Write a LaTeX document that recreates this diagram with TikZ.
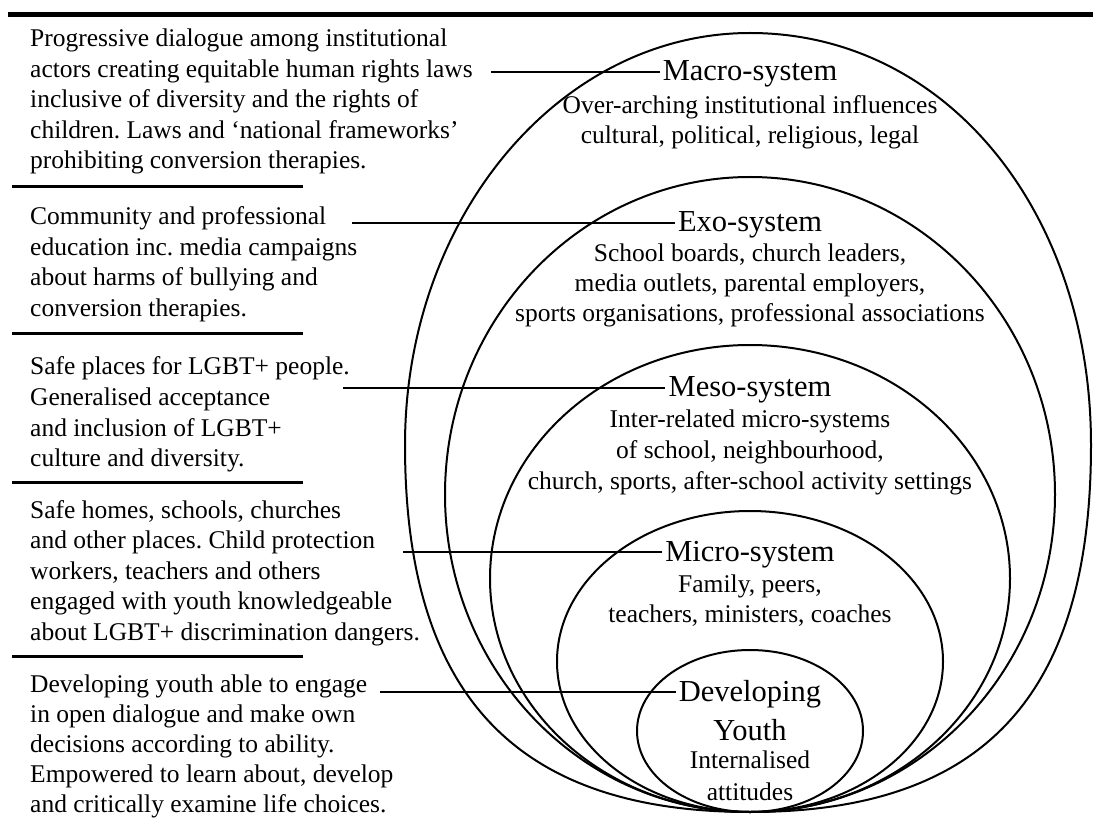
\documentclass[tikz,border=0pt]{standalone}
\usepackage{fontspec}
\setmainfont{Liberation Serif}
\frenchspacing
\begin{document}
\begin{tikzpicture}[x=1pt,y=-1pt,
  lefttext/.style={anchor=base west, inner sep=0pt, font=\fontsize{25.5}{30.5}\selectfont},
  sub/.style={anchor=base, inner sep=0pt, font=\fontsize{25.5}{30.5}\selectfont},
  ttl/.style={anchor=base, inner xsep=3pt, inner ysep=0pt, font=\fontsize{30.5}{36}\selectfont},
  conn/.style={line width=2.5pt},
  sepline/.style={line width=3pt},
  ring/.style={line width=2pt}]
\useasboundingbox (0,0) rectangle (1093,826);

% top bar
\draw[line width=5.5pt] (8,14.5) -- (1093,14.5);

% nested systems
% macro: egg-like, fuller towards the bottom
\draw[ring] (750,33)
  .. controls (559.5,33) and (405,217.5) .. (405,445)
  .. controls (405,694.6) and (515.4,812) .. (750,812)
  .. controls (984.6,812) and (1091,694.6) .. (1091,445)
  .. controls (1091,210) and (945,33) .. (750,33) -- cycle;
\draw[ring] (750,494.5) ellipse [x radius=305, y radius=317.5];
\draw[ring] (750,578.5) ellipse [x radius=260, y radius=233.5];
\draw[ring] (750,661.5) ellipse [x radius=193, y radius=150.5];
\draw[ring] (750,731)   ellipse [x radius=113, y radius=81];

% separators
\draw[sepline] (12,187) -- (303,187);
\draw[sepline] (12,334) -- (303,334);
\draw[sepline] (12,482) -- (303,482);
\draw[sepline] (12,656) -- (303,656);

% left text
\node[lefttext] (a1) at (30,47)    {Progressive dialogue among institutional};
\node[lefttext] (a2) at (30,77.5)  {actors creating equitable human rights laws};
\node[lefttext] (a3) at (30,108)   {inclusive of diversity and the rights of};
\node[lefttext] (a4) at (30,138.5) {children. Laws and ‘national frameworks’};
\node[lefttext] (a5) at (30,169)   {prohibiting conversion therapies.};

\node[lefttext] (b1) at (30,225)   {Community and professional};
\node[lefttext] (b2) at (30,255.5) {education inc. media campaigns};
\node[lefttext] (b3) at (30,286)   {about harms of bullying and};
\node[lefttext] (b4) at (30,316.5) {conversion therapies.};

\node[lefttext] (c1) at (30,375)   {Safe places for LGBT+ people.};
\node[lefttext] (c2) at (30,405.5) {Generalised acceptance};
\node[lefttext] (c3) at (30,436)   {and inclusion of LGBT+};
\node[lefttext] (c4) at (30,466.5) {culture and diversity.};

\node[lefttext] (d1) at (30,518)   {Safe homes, schools, churches};
\node[lefttext] (d2) at (30,548.5) {and other places. Child protection};
\node[lefttext] (d3) at (30,579)   {workers, teachers and others};
\node[lefttext] (d4) at (30,609.5) {engaged with youth knowledgeable};
\node[lefttext] (d5) at (30,640)   {about LGBT+ discrimination dangers.};

\node[lefttext] (e1) at (30,692)   {Developing youth able to engage};
\node[lefttext] (e2) at (30,722)   {in open dialogue and make own};
\node[lefttext] (e3) at (30,752)   {decisions according to ability.};
\node[lefttext] (e4) at (30,782)   {Empowered to learn about, develop};
\node[lefttext] (e5) at (30,812)   {and critically examine life choices.};

% system labels
\node[ttl] (macro) at (750,81) {Macro-system};
\node[sub] (macro1) at (750,114) {Over-arching institutional influences};
\node[sub] (macro2) at (750,144) {cultural, political, religious, legal};

\node[ttl] (exo) at (750,232) {Exo-system};
\node[sub] (exo1) at (750,262) {School boards, church leaders,};
\node[sub] (exo2) at (750,292) {media outlets, parental employers,};
\node[sub] (exo3) at (750,322) {sports organisations, professional associations};

\node[ttl] (meso) at (750,397) {Meso-system};
\node[sub] (meso1) at (750,428) {Inter-related micro-systems};
\node[sub] (meso2) at (750,458) {of school, neighbourhood,};
\node[sub] (meso3) at (750,489) {church, sports, after-school activity settings};

\node[ttl] (micro) at (750,561) {Micro-system};
\node[sub] (micro1) at (750,592) {Family, peers,};
\node[sub] (micro2) at (750,622) {teachers, ministers, coaches};

\node[ttl] (dev) at (750,701) {Developing};
\node[ttl] (youth) at (750,740) {Youth};
\node[sub] (dev1) at (750,768) {Internalised};
\node[sub] (dev2) at (750,800) {attitudes};

% connectors
\coordinate (pA) at (491,72);
\coordinate (pB) at (352,223);
\coordinate (pC) at (343,388);
\coordinate (pD) at (403,552);
\coordinate (pE) at (380,692);
\draw[conn] (pA) -- (pA -| macro.west);
\draw[conn] (pB) -- (pB -| exo.west);
\draw[conn] (pC) -- (pC -| meso.west);
\draw[conn] (pD) -- (pD -| micro.west);
\draw[conn] (pE) -- (pE -| dev.west);
\end{tikzpicture}
\end{document}
